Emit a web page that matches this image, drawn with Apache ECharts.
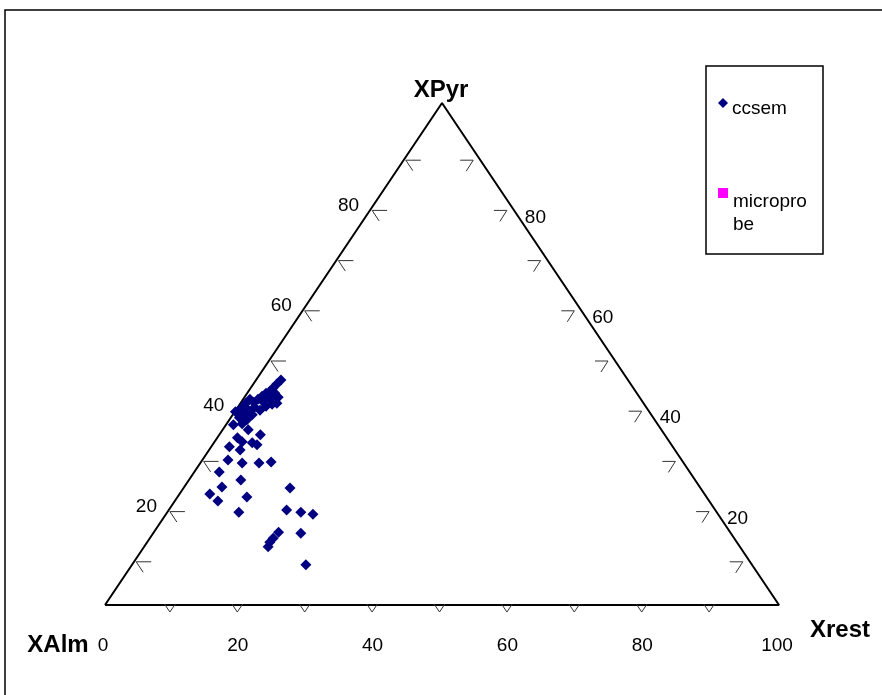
<!DOCTYPE html>
<html>
<head>
<meta charset="utf-8">
<script src="https://cdn.jsdelivr.net/npm/echarts@6/dist/echarts.min.js"></script>
<style>
  html, body { margin: 0; padding: 0; background: #fff; }
  #chart { width: 882px; height: 695px; }
</style>
</head>
<body>
<div id="chart"></div>
<script>
// Garnet end-member fractions (%) plotted in the XAlm – XPyr – Xrest triangle.
// Each point is given by its XPyr and Xrest share; XAlm = 100 - XPyr - Xrest.
const ccsemPyr = [
  8.0, 11.6, 12.5, 13.3, 14.5, 14.3, 18.9, 18.5, 18.1, 23.3,
  18.5, 21.5, 24.9, 22.1, 20.7, 23.5, 26.5, 28.9, 28.3, 28.3,
  28.5, 31.5, 30.9, 33.3, 32.5, 32.3, 31.9, 33.9, 34.9, 35.9,
  36.1, 36.9, 37.9, 37.3, 38.1, 38.5, 38.7, 39.4, 38.8, 39.6,
  40.0, 40.2, 40.2, 41.0, 40.4, 41.0, 40.6, 41.0, 41.4, 42.2,
  41.6, 42.2, 42.6, 43.2, 44.0, 44.8, 41.4, 39.2
];
const ccsemRest = [
  25.8, 18.4, 18.2, 18.3, 18.5, 21.9, 17.5, 19.8, 21.8, 15.8,
  10.6, 10.3, 7.7, 4.5, 6.4, 5.6, 3.7, 3.8, 6.2, 8.7,
  10.4, 2.7, 4.6, 3.0, 4.1, 5.7, 6.6, 6.1, 3.8, 1.1,
  2.3, 2.6, 2.9, 1.3, 1.6, 0.1, 2.0, 2.5, 3.6, 4.1,
  4.8, 5.4, 0.8, 1.0, 1.9, 2.2, 3.1, 4.0, 5.0, 4.1,
  2.5, 2.8, 3.2, 3.3, 3.5, 3.7, 3.5, 0.6
];
const microprobePyr = [];
const microprobeRest = [];

// Axis furniture
const tickValues = [10, 20, 30, 40, 50, 60, 70, 80, 90];
const bottomLabels = [0, 20, 40, 60, 80, 100];
const sideLabels = [20, 40, 60, 80];
const cornerTitles = { top: 'XPyr', left: 'XAlm', right: 'Xrest' };

const FONT = '"Liberation Sans", Arial, sans-serif';
const NAVY = '#000080';
const PINK = '#FF00FF';

// ternary (pyr, rest) -> plane (x, y)
function toPlane(pyr, rest) { return [rest + pyr / 2, pyr]; }

const ccsemData = ccsemPyr.map((p, i) => toPlane(p, ccsemRest[i]));
const microprobeData = microprobePyr.map((p, i) => toPlane(p, microprobeRest[i]));
const triangle = [toPlane(0, 0), toPlane(0, 100), toPlane(100, 0), toPlane(0, 0)];

const chart = echarts.init(document.getElementById('chart'), null, { renderer: 'canvas' });

// small offset used by the tick stubs
const SH = [-2.5, 7];

function add(p, d) { return [p[0] + d[0], p[1] + d[1]]; }

function textEl(x, y, text, font, align) {
  return {
    type: 'text', x: x, y: y,
    style: { text: text, font: font, fill: '#000', align: align || 'center', verticalAlign: 'middle' }
  };
}

const option = {
  animation: false,
  backgroundColor: '#fff',
  grid: { left: 105, top: 103, width: 674, height: 502 },
  xAxis: { type: 'value', min: 0, max: 100, show: false },
  yAxis: { type: 'value', min: 0, max: 100, show: false },
  series: [
    {
      name: 'frame',
      type: 'line',
      data: triangle,
      symbol: 'none',
      silent: true,
      lineStyle: { color: '#000', width: 2 },
      z: 2
    },
    {
      name: 'ticks',
      type: 'custom',
      clip: false,
      silent: true,
      data: tickValues.map(v => [v, 0]),
      renderItem: function (params, api) {
        const v = api.value(0);
        const b = add(api.coord(toPlane(0, v)), SH);
        const l = add(api.coord(toPlane(v, 0)), SH);
        const r = add(api.coord(toPlane(v, 100 - v)), SH);
        const st = { stroke: '#333', lineWidth: 1, fill: null };
        return {
          type: 'group',
          children: [
            { type: 'polyline', shape: { points: [add(b, [-5.4, -8]), b, add(b, [5.4, -8])] }, style: st },
            { type: 'polyline', shape: { points: [add(l, [15, 0]), l, add(l, [7, 10.5])] }, style: st },
            { type: 'polyline', shape: { points: [add(r, [-13, 0]), r, add(r, [-7, 11])] }, style: st }
          ]
        };
      },
      z: 3
    },
    {
      name: 'bottomLabels',
      type: 'custom',
      clip: false,
      silent: true,
      data: bottomLabels.map(v => [v, 0]),
      renderItem: function (params, api) {
        const v = api.value(0);
        const p = api.coord(toPlane(0, v));
        return textEl(p[0] - 2, p[1] + 41, String(v), '19px ' + FONT);
      }
    },
    {
      name: 'leftLabels',
      type: 'custom',
      clip: false,
      silent: true,
      data: sideLabels.map(v => [v, 0]),
      renderItem: function (params, api) {
        const v = api.value(0);
        const p = api.coord(toPlane(v, 0));
        return textEl(p[0] - 26, p[1] + 2, String(v), '19px ' + FONT);
      }
    },
    {
      name: 'rightLabels',
      type: 'custom',
      clip: false,
      silent: true,
      data: sideLabels.map(v => [v, 0]),
      renderItem: function (params, api) {
        const v = api.value(0);
        const p = api.coord(toPlane(v, 100 - v));
        return textEl(p[0] + 26, p[1] + 14, String(v), '19px ' + FONT);
      }
    },
    {
      name: 'ccsem',
      type: 'scatter',
      data: ccsemData,
      symbol: 'diamond',
      symbolSize: 11,
      itemStyle: { color: NAVY, opacity: 1 },
      z: 5
    },
    {
      name: 'microprobe',
      type: 'scatter',
      data: microprobeData,
      symbol: 'rect',
      symbolSize: 10,
      itemStyle: { color: PINK, opacity: 1 },
      z: 5
    }
  ],
  graphic: [
    // outer chart border
    { type: 'rect', shape: { x: 5, y: 10, width: 900, height: 700 },
      style: { fill: null, stroke: '#000', lineWidth: 1.5 }, silent: true },
    // corner titles
    textEl(441, 90, cornerTitles.top, 'bold 24px ' + FONT),
    textEl(58, 645, cornerTitles.left, 'bold 24px ' + FONT),
    textEl(840, 630, cornerTitles.right, 'bold 24px ' + FONT),
    // legend
    { type: 'rect', shape: { x: 706, y: 66, width: 117, height: 188 },
      style: { fill: '#fff', stroke: '#000', lineWidth: 1.5 } },
    { type: 'polygon', shape: { points: [[723, 98], [728, 103], [723, 108], [718, 103]] },
      style: { fill: NAVY } },
    textEl(732, 109, 'ccsem', '19px ' + FONT, 'left'),
    { type: 'rect', shape: { x: 718, y: 188, width: 10, height: 10 },
      style: { fill: PINK } },
    textEl(733, 202, 'micropro', '19px ' + FONT, 'left'),
    textEl(733, 225, 'be', '19px ' + FONT, 'left')
  ]
};

chart.setOption(option);
</script>
</body>
</html>
